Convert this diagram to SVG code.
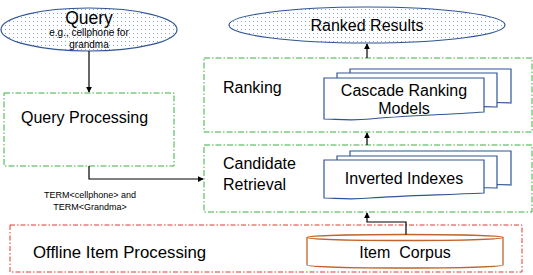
<svg xmlns="http://www.w3.org/2000/svg" width="533" height="275" viewBox="0 0 533 275">
<defs>
<pattern id="dots" width="4" height="4" patternUnits="userSpaceOnUse">
<rect x="1" y="1" width="0.9" height="0.9" fill="#6F8FD0"/>
</pattern>
<marker id="arr" viewBox="0 0 8 8" refX="7" refY="4" markerWidth="6" markerHeight="6" orient="auto" markerUnits="userSpaceOnUse">
<path d="M0,0 L8,4 L0,8 Z" fill="#000"/>
</marker>
<style>
text{font-family:"Liberation Sans",Arial,sans-serif;fill:#000}
.big{font-size:16px}
.ell{fill:url(#dots);stroke:#2F5597;stroke-width:1.2}
.grp{fill:none;stroke:#3DB043;stroke-width:1;stroke-dasharray:6 2 1.5 2}
.off{fill:none;stroke:#E03A2E;stroke-width:1;stroke-dasharray:5 2 1.5 2}
.doc{fill:#fff;stroke:#2F5597;stroke-width:1.2}
.cyl{fill:#fff;stroke:#C0652A;stroke-width:1.3}
.conn{fill:none;stroke:#000;stroke-width:1.2}
</style>
</defs>

<g id="query">
<ellipse class="ell" cx="89" cy="29.5" rx="88" ry="21.5"/>
<text x="89" y="23.5" text-anchor="middle" font-size="17.5">Query</text>
<text x="89" y="36" text-anchor="middle" font-size="10">e.g., cellphone for</text>
<text x="89" y="48" text-anchor="middle" font-size="10">grandma</text>
</g>

<g id="ranked-results">
<ellipse class="ell" cx="367" cy="25" rx="138" ry="18"/>
<text class="big" x="367" y="31" text-anchor="middle">Ranked Results</text>
</g>

<g id="query-processing">
<rect class="grp" x="4" y="93" width="170" height="73"/>
<text class="big" x="21" y="123">Query Processing</text>
</g>

<g id="ranking">
<rect class="grp" x="204" y="58" width="328" height="74"/>
<text class="big" x="223" y="93">Ranking</text>
</g>

<g id="cascade-ranking-models">
<path class="doc" d="M350,69 H511 V103 C470,100 440,108 350,108 Z"/>
<path class="doc" d="M337,73 H497 V107 C456,104 426,113 337,113 Z"/>
<path class="doc" d="M324,78 H484 V112 C440,115 400,116 370,119 C350,121 335,119 324,119 Z"/>
<text class="big" x="404" y="96" text-anchor="middle">Cascade Ranking</text>
<text class="big" x="404" y="114" text-anchor="middle">Models</text>
</g>

<g id="candidate-retrieval">
<rect class="grp" x="204" y="145" width="328" height="67"/>
<text class="big" x="223" y="169">Candidate</text>
<text class="big" x="223" y="190">Retrieval</text>
</g>

<g id="inverted-indexes">
<path class="doc" d="M350,151 H511 V185 C470,182 440,190 350,190 Z"/>
<path class="doc" d="M337,156 H497 V188 C456,186 426,194 337,194 Z"/>
<path class="doc" d="M324,160 H484 V193 C440,195 400,196 370,198 C350,200 335,198 324,198 Z"/>
<text class="big" x="404" y="184" text-anchor="middle">Inverted Indexes</text>
</g>

<g id="offline-item-processing">
<rect class="off" x="10" y="225" width="512" height="47"/>
<text x="33" y="258" font-size="16.8">Offline Item Processing</text>
</g>

<g id="item-corpus">
<path class="cyl" d="M307,237.5 V265 A98,3 0 0 0 503,265 V237.5"/>
<ellipse class="cyl" cx="405" cy="237.5" rx="98" ry="3"/>
<text class="big" x="405" y="258" text-anchor="middle" xml:space="preserve">Item  Corpus</text>
</g>

<g id="connectors">
<path class="conn" d="M89,51 V92" marker-end="url(#arr)"/>
<path class="conn" d="M89,166 V179 H203" marker-end="url(#arr)"/>
<path class="conn" d="M367,58 V44" marker-end="url(#arr)"/>
<path class="conn" d="M367,145 V133" marker-end="url(#arr)"/>
<path class="conn" d="M406,234.5 V222 H367 V213" marker-end="url(#arr)"/>
<text x="90" y="198" text-anchor="middle" font-size="9">TERM&lt;cellphone&gt; and</text>
<text x="90" y="210" text-anchor="middle" font-size="9">TERM&lt;Grandma&gt;</text>
</g>
</svg>
